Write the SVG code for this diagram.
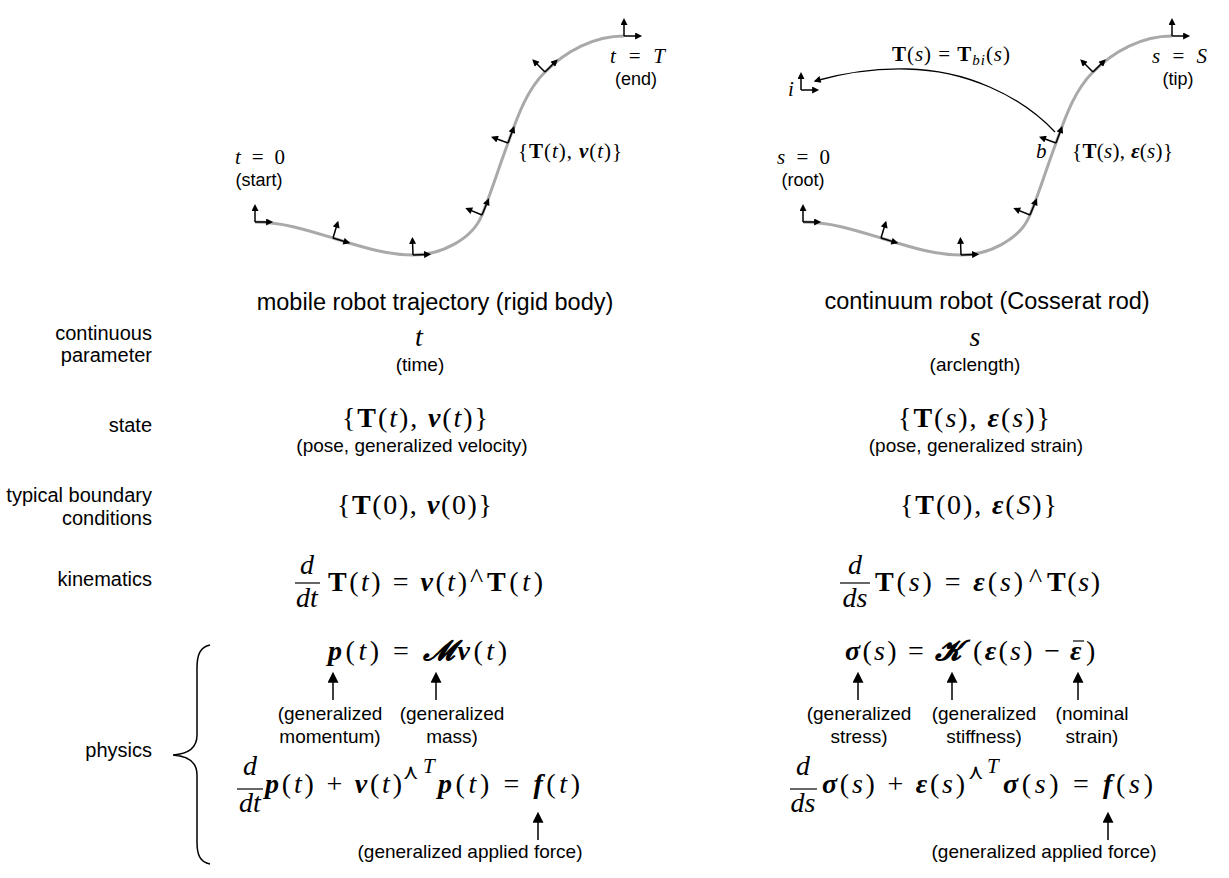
<svg xmlns="http://www.w3.org/2000/svg" xmlns:xlink="http://www.w3.org/1999/xlink" width="1229" height="878" viewBox="0 0 1229 878">
<style>
.m{font-family:"Liberation Serif","DejaVu Serif",serif;font-size:28px;fill:#000}
.ms{font-family:"Liberation Serif","DejaVu Serif",serif;font-size:21px;fill:#000}
.b{font-weight:bold}
.bi{font-weight:bold;font-style:italic}
.i{font-style:italic}
.cw{font-family:"DejaVu Sans",sans-serif;font-size:21px}
.lab{font-family:"Liberation Sans",Arial,sans-serif;font-size:19px;text-anchor:middle;fill:#000}
.sl{font-family:"Liberation Sans",Arial,sans-serif;font-size:18px;text-anchor:middle;fill:#000}
.row{font-family:"Liberation Sans",Arial,sans-serif;font-size:20px;text-anchor:end;fill:#000}
.title{font-family:"Liberation Sans",Arial,sans-serif;font-size:23.5px;text-anchor:middle;fill:#000}
.mid{text-anchor:middle}
.curve{fill:none;stroke:#a9a9a9;stroke-width:3}
.ax{stroke:#000;stroke-width:1.5;marker-end:url(#ah)}
.bar{stroke:#000;stroke-width:1.2}
.pa{stroke:#000;stroke-width:1.5;marker-end:url(#big)}
.arc{fill:none;stroke:#000;stroke-width:1.3;marker-end:url(#mid)}
</style>
<defs>
<marker id="ah" viewBox="0 0 10 10" refX="7" refY="5" markerUnits="userSpaceOnUse" markerWidth="9" markerHeight="7" orient="auto"><path d="M0,0 L10,5 L0,10 z" fill="#000"/></marker>
<marker id="big" viewBox="0 0 10 10" refX="8" refY="5" markerUnits="userSpaceOnUse" markerWidth="13" markerHeight="11" orient="auto"><path d="M0,0 L10,5 L0,10 z" fill="#000"/></marker>
<marker id="mid" viewBox="0 0 10 10" refX="8" refY="5" markerUnits="userSpaceOnUse" markerWidth="10" markerHeight="7" orient="auto"><path d="M0,0 L10,5 L0,10 z" fill="#000"/></marker>
<g id="fr"><line x1="0" y1="0" x2="16" y2="0" class="ax"/><line x1="0" y1="0" x2="0" y2="-16" class="ax"/></g>
<g id="robot">
<path class="curve" d="M255,222 C282,222 307,230 333,238 C359,246 386,255 413,255 C440,255 472,240 482,215 C491,193 499,167 508,143 C517,118 526,91 545,72 C566,51 594,36 624,36"/>
<use xlink:href="#fr" transform="translate(255,222)"/>
<use xlink:href="#fr" transform="translate(333,238) rotate(16.8)"/>
<use xlink:href="#fr" transform="translate(413,255) rotate(-2)"/>
<use xlink:href="#fr" transform="translate(482,215) rotate(-67.5)"/>
<use xlink:href="#fr" transform="translate(508,143) rotate(-69.6)"/>
<use xlink:href="#fr" transform="translate(545,72) rotate(-45)"/>
<use xlink:href="#fr" transform="translate(624,36)"/>
</g>
</defs>

<g id="left-curve">
<use xlink:href="#robot"/>
<text class="ms" x="235" y="164" textLength="50"><tspan class="i">t</tspan> = 0</text>
<text class="sl" x="259" y="186">(start)</text>
<text class="ms" x="610" y="63" textLength="55"><tspan class="i">t</tspan> = <tspan class="i">T</tspan></text>
<text class="sl" x="636" y="85">(end)</text>
<text class="ms" x="518" y="158" textLength="104">{<tspan class="b">T</tspan>(<tspan class="i">t</tspan>), <tspan class="bi">v</tspan>(<tspan class="i">t</tspan>)}</text>
</g>

<g id="right-curve">
<use xlink:href="#robot" transform="translate(548,0)"/>
<use xlink:href="#fr" transform="translate(801,90)"/>
<text class="ms i" x="788" y="96">i</text>
<text class="ms i" x="1036" y="158">b</text>
<text class="ms" x="777" y="164" textLength="53"><tspan class="i">s</tspan> = 0</text>
<text class="sl" x="803" y="186">(root)</text>
<text class="ms" x="1152" y="63" textLength="55"><tspan class="i">s</tspan> = <tspan class="i">S</tspan></text>
<text class="sl" x="1178" y="85">(tip)</text>
<text class="ms" x="1072" y="158" textLength="101">{<tspan class="b">T</tspan>(<tspan class="i">s</tspan>), <tspan class="bi">ε</tspan>(<tspan class="i">s</tspan>)}</text>
<text class="ms" x="892" y="61" textLength="118"><tspan class="b">T</tspan>(<tspan class="i">s</tspan>) = <tspan class="b">T</tspan><tspan class="i" font-size="15" dy="4">bi</tspan><tspan dy="-4">(</tspan><tspan class="i">s</tspan>)</text>
</g>

<g id="titles">
<text class="title" x="435" y="310">mobile robot trajectory (rigid body)</text>
<text class="title" x="987" y="309">continuum robot (Cosserat rod)</text>
</g>

<g id="row-labels">
<text class="row" x="152" y="340">continuous</text>
<text class="row" x="152" y="362">parameter</text>
<text class="row" x="152" y="432">state</text>
<text class="row" x="152" y="502">typical boundary</text>
<text class="row" x="152" y="525">conditions</text>
<text class="row" x="152" y="586">kinematics</text>
<text class="row" x="152" y="757">physics</text>
<path d="M210,645 C200,647 197,655 197,668 L197,735 C197,748 188,754 173,755 C188,756 197,762 197,775 L197,842 C197,855 200,862 210,864" fill="none" stroke="#000" stroke-width="1.5"/>
</g>

<g id="param">
<text class="m i mid" x="419" y="346">t</text>
<text class="lab" x="420" y="371">(time)</text>
<text class="m i mid" x="975" y="346">s</text>
<text class="lab" x="975" y="371">(arclength)</text>
</g>

<g id="state">
<text class="m" x="342" y="427" textLength="146">{<tspan class="b">T</tspan>(<tspan class="i">t</tspan>), <tspan class="bi">v</tspan>(<tspan class="i">t</tspan>)}</text>
<text class="lab" x="412" y="452">(pose, generalized velocity)</text>
<text class="m" x="898" y="427" textLength="152">{<tspan class="b">T</tspan>(<tspan class="i">s</tspan>), <tspan class="bi">ε</tspan>(<tspan class="i">s</tspan>)}</text>
<text class="lab" x="976" y="452">(pose, generalized strain)</text>
</g>

<g id="boundary">
<text class="m" x="337" y="514" textLength="155">{<tspan class="b">T</tspan>(0), <tspan class="bi">v</tspan>(0)}</text>
<text class="m" x="900" y="514" textLength="157">{<tspan class="b">T</tspan>(0), <tspan class="bi">ε</tspan>(<tspan class="i">S</tspan>)}</text>
</g>

<g id="kinematics">
<text class="m i mid" x="307" y="574">d</text>
<line class="bar" x1="295" y1="583" x2="320" y2="583"/>
<text class="m i mid" x="307" y="607">dt</text>
<text class="m" x="328" y="591" textLength="139"><tspan class="b">T</tspan>(<tspan class="i">t</tspan>) = <tspan class="bi">v</tspan>(<tspan class="i">t</tspan>)</text>
<text class="m" x="470" y="587" font-size="26">^</text>
<text class="m" x="487" y="591" textLength="56"><tspan class="b">T</tspan>(<tspan class="i">t</tspan>)</text>

<text class="m i mid" x="855" y="574">d</text>
<line class="bar" x1="840" y1="583" x2="870" y2="583"/>
<text class="m i mid" x="855" y="607">ds</text>
<text class="m" x="875" y="591" textLength="148"><tspan class="b">T</tspan>(<tspan class="i">s</tspan>) = <tspan class="bi">ε</tspan>(<tspan class="i">s</tspan>)</text>
<text class="m" x="1029" y="587" font-size="26">^</text>
<text class="m" x="1047" y="591" textLength="53"><tspan class="b">T</tspan>(<tspan class="i">s</tspan>)</text>
</g>

<g id="physics-left">
<text class="m" x="328" y="660" textLength="179"><tspan class="bi">p</tspan>(<tspan class="i">t</tspan>) = <tspan class="bi">𝓜</tspan><tspan class="bi">v</tspan>(<tspan class="i">t</tspan>)</text>
<text class="lab" x="330" y="720">(generalized</text>
<text class="lab" x="330" y="743">momentum)</text>
<text class="lab" x="452" y="720">(generalized</text>
<text class="lab" x="452" y="743">mass)</text>
<text class="m i mid" x="250" y="775">d</text>
<line class="bar" x1="237" y1="789" x2="263" y2="789"/>
<text class="m i mid" x="250" y="812">dt</text>
<text class="m" x="265" y="793" textLength="137"><tspan class="bi">p</tspan>(<tspan class="i">t</tspan>) + <tspan class="bi">v</tspan>(<tspan class="i">t</tspan>)</text>
<text class="cw" x="403" y="779">⋏</text>
<text class="ms i" x="423" y="773" font-size="17">T</text>
<text class="m" x="438" y="793" textLength="142"><tspan class="bi">p</tspan>(<tspan class="i">t</tspan>) = <tspan class="bi">f</tspan>(<tspan class="i">t</tspan>)</text>
<text class="lab" x="470" y="858">(generalized applied force)</text>
</g>

<g id="physics-right">
<text class="m" x="845" y="660" textLength="215"><tspan class="bi">σ</tspan>(<tspan class="i">s</tspan>) = <tspan class="bi">𝓚</tspan> (<tspan class="bi">ε</tspan>(<tspan class="i">s</tspan>) −</text>
<text class="m bi" x="1070" y="660">ε</text>
<line class="bar" x1="1073" y1="641" x2="1084" y2="641"/>
<text class="m" x="1086" y="660">)</text>
<text class="lab" x="859" y="720">(generalized</text>
<text class="lab" x="859" y="743">stress)</text>
<text class="lab" x="984" y="720">(generalized</text>
<text class="lab" x="984" y="743">stiffness)</text>
<text class="lab" x="1092" y="720">(nominal</text>
<text class="lab" x="1092" y="743">strain)</text>
<text class="m i mid" x="803" y="775">d</text>
<line class="bar" x1="790" y1="789" x2="817" y2="789"/>
<text class="m i mid" x="803" y="812">ds</text>
<text class="m" x="822" y="793" textLength="143"><tspan class="bi">σ</tspan>(<tspan class="i">s</tspan>) + <tspan class="bi">ε</tspan>(<tspan class="i">s</tspan>)</text>
<text class="cw" x="968" y="779">⋏</text>
<text class="ms i" x="987" y="773" font-size="17">T</text>
<text class="m" x="1003" y="793" textLength="150"><tspan class="bi">σ</tspan>(<tspan class="i">s</tspan>) = <tspan class="bi">f</tspan>(<tspan class="i">s</tspan>)</text>
<text class="lab" x="1044" y="858">(generalized applied force)</text>
</g>

<g id="connectors">
<path class="arc" d="M1055,132 C1020,95 965,70 907,69 C870,68 840,74 815,81"/>
<line class="pa" x1="333" y1="700" x2="333" y2="674"/>
<line class="pa" x1="436" y1="700" x2="436" y2="674"/>
<line class="pa" x1="538" y1="840" x2="538" y2="814"/>
<line class="pa" x1="858" y1="700" x2="858" y2="674"/>
<line class="pa" x1="952" y1="700" x2="952" y2="674"/>
<line class="pa" x1="1078" y1="700" x2="1078" y2="674"/>
<line class="pa" x1="1108" y1="840" x2="1108" y2="814"/>
</g>
</svg>
